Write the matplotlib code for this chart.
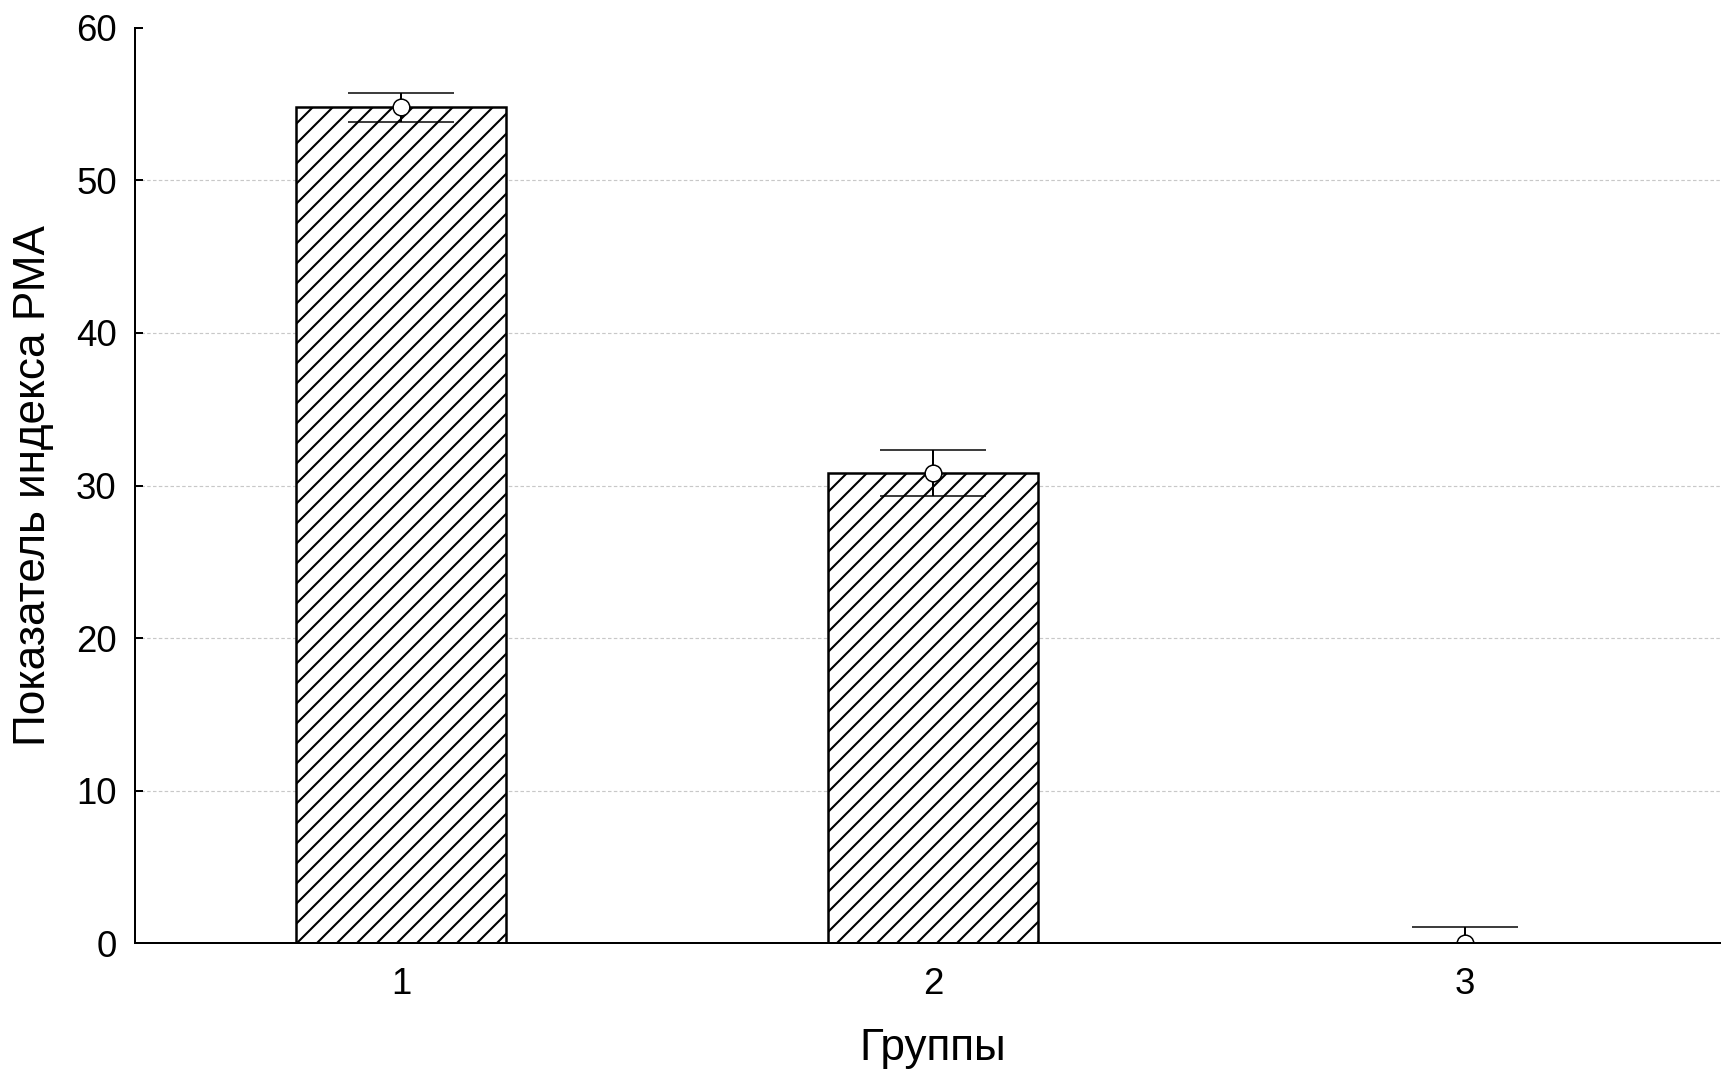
import matplotlib
matplotlib.use("Agg")
import matplotlib.pyplot as plt
import numpy as np

groups = ["1", "2", "3"]
means = [54.8, 30.8, 0.0]
err_upper = [0.95, 1.51, 1.07]
err_lower = [0.95, 1.51, 0.0]
y_ticks = [0, 10, 20, 30, 40, 50, 60]
xlabel = "Группы"
ylabel = "Показатель индекса РМА"

plt.rcParams['font.family'] = ['Liberation Sans', 'DejaVu Sans']
plt.rcParams['hatch.linewidth'] = 1.25
plt.rcParams['hatch.color'] = '#2a2a2a'

W, H, DPI = 1721, 1073, 120
fig = plt.figure(figsize=(W / DPI, H / DPI), dpi=DPI)
left = 135 / W
bottom = 1 - 943.3 / H
width = (1731 - 135) / W
height = (943.3 - 27.7) / H
ax = fig.add_axes([left, bottom, width, height])

x = np.arange(1, len(groups) + 1)
ax.bar(x, means, width=0.395, facecolor='white', edgecolor='black',
       linewidth=1.5, hatch='//', zorder=2)
ax.errorbar(x, means, yerr=[err_lower, err_upper], fmt='o', color='black',
            ecolor='black', elinewidth=1.2, capsize=32, capthick=1.7,
            markersize=10, markerfacecolor='white', markeredgecolor='black',
            markeredgewidth=0.9, zorder=3)

ax.set_xlim(0.5, 3.5)
ax.set_ylim(0, 60)
ax.set_xticks(x)
ax.set_xticklabels(groups)
ax.set_yticks(y_ticks)
ax.grid(axis='y', color='#c8c8c8', linestyle=(0, (3, 2)), linewidth=0.7, zorder=0)
ax.set_axisbelow(True)
ax.yaxis.get_gridlines()[-1].set_visible(False)

for s in ['top', 'right']:
    ax.spines[s].set_visible(False)
for s in ['left', 'bottom']:
    ax.spines[s].set_linewidth(1.2)
    ax.spines[s].set_zorder(4)

ax.tick_params(axis='both', direction='in', length=4.8, width=1.2,
               labelsize=22)
ax.tick_params(axis='x', pad=14)
ax.tick_params(axis='y', pad=11)
ax.set_xlabel(xlabel, fontsize=26.5, labelpad=16)
ax.set_ylabel(ylabel, fontsize=26.5, labelpad=13)

fig.savefig("out.png", dpi=DPI)
